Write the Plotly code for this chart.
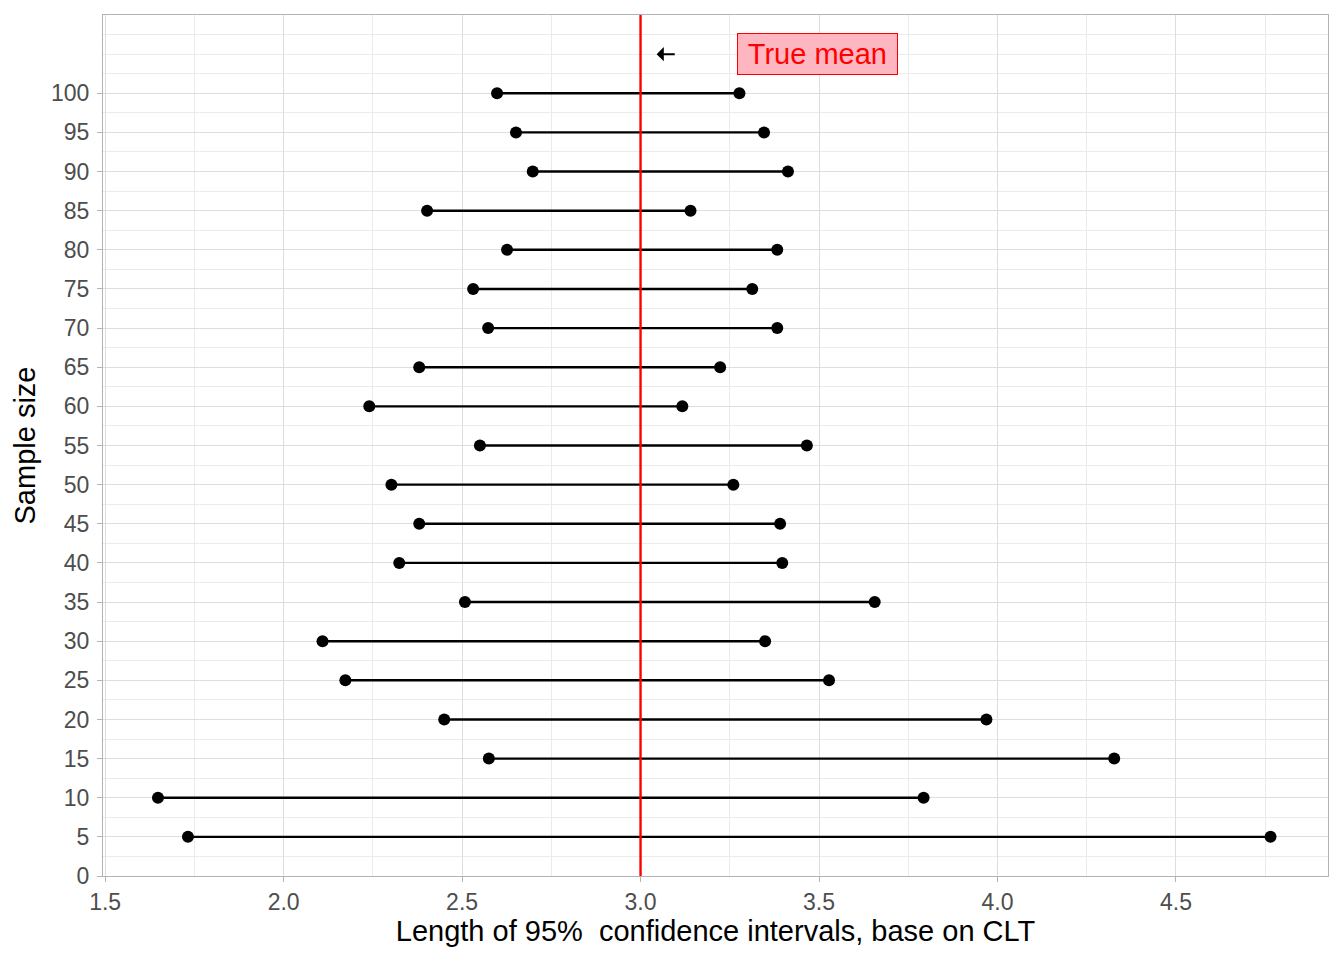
import plotly.graph_objects as go

sample_size = [5, 10, 15, 20, 25, 30, 35, 40, 45, 50, 55, 60, 65, 70, 75, 80, 85, 90, 95, 100]
lower = [1.732, 1.648, 2.575, 2.450, 2.173, 2.109, 2.508, 2.324, 2.380, 2.302,
         2.550, 2.240, 2.380, 2.573, 2.531, 2.626, 2.402, 2.698, 2.651, 2.598]
upper = [4.765, 3.793, 4.327, 3.969, 3.528, 3.349, 3.656, 3.397, 3.391, 3.260,
         3.466, 3.117, 3.223, 3.383, 3.313, 3.383, 3.140, 3.413, 3.346, 3.277]
true_mean = 3.0
x_ticks = [1.5, 2.0, 2.5, 3.0, 3.5, 4.0, 4.5]
x_ticklabels = ["1.5", "2.0", "2.5", "3.0", "3.5", "4.0", "4.5"]
y_ticks = list(range(0, 101, 5))

seg_x, seg_y = [], []
for n, lo, hi in zip(sample_size, lower, upper):
    seg_x += [lo, hi, None]
    seg_y += [n, n, None]

pts_x = lower + upper
pts_y = sample_size + sample_size

fig = go.Figure()
fig.add_trace(go.Scatter(x=seg_x, y=seg_y, mode="lines",
                         line=dict(color="black", width=2.4), hoverinfo="skip",
                         showlegend=False))
fig.add_trace(go.Scatter(x=pts_x, y=pts_y, mode="markers",
                         marker=dict(color="black", size=12), showlegend=False))
fig.add_trace(go.Scatter(x=[true_mean, true_mean], y=[0, 110], mode="lines",
                         line=dict(color="#FF0000", width=2.4), showlegend=False))

fig.add_annotation(x=3.045, y=105, ax=3.10, ay=105, axref="x", ayref="y",
                   xref="x", yref="y", text="", showarrow=True,
                   arrowhead=1, arrowsize=1.2, arrowwidth=2, arrowcolor="black")
fig.add_annotation(x=3.497, y=105, xref="x", yref="y", text="\u2009True mean\u2009",
                   showarrow=False, bgcolor="#FFB6C1", bordercolor="#FF0000",
                   borderwidth=1, borderpad=4,
                   font=dict(color="#FF0000", size=29, family="Liberation Sans"))

fig.update_layout(
    width=1328, height=944,
    margin=dict(l=95, r=8, t=7, b=76),
    paper_bgcolor="white", plot_bgcolor="white",
    font=dict(family="Liberation Sans", color="black"),
    showlegend=False,
)
fig.update_xaxes(
    range=[1.494, 4.926], tickmode="array", tickvals=x_ticks, ticktext=x_ticklabels,
    showgrid=True, gridcolor="#DEDEDE", gridwidth=1.1,
    minor=dict(tickmode="array", tickvals=[1.75, 2.25, 2.75, 3.25, 3.75, 4.25, 4.75],
               showgrid=True, gridcolor="#EBEBEB", gridwidth=0.6, ticks=""),
    ticks="outside", ticklen=5, tickcolor="#B3B3B3", tickwidth=1,
    tickfont=dict(size=23, color="#4D4D4D"),
    showline=True, linecolor="#B3B3B3", linewidth=1, mirror=True,
    zeroline=False,
    title=dict(text="Length of 95%\u00a0 confidence intervals, base on CLT",
               font=dict(size=29, color="black"), standoff=2),
)
fig.update_yaxes(
    range=[0, 110], tickmode="array", tickvals=y_ticks,
    showgrid=True, gridcolor="#DEDEDE", gridwidth=1.1,
    minor=dict(tickmode="array",
               tickvals=[2.5 + 5 * i for i in range(22)] + [105],
               showgrid=True, gridcolor="#EBEBEB", gridwidth=0.6, ticks=""),
    ticks="outside", ticklen=5, tickcolor="#B3B3B3", tickwidth=1,
    tickfont=dict(size=23, color="#4D4D4D"), ticklabelstandoff=3,
    showline=True, linecolor="#B3B3B3", linewidth=1, mirror=True,
    zeroline=False,
    title=dict(text="Sample size", font=dict(size=29, color="black"), standoff=6),
)

fig.write_html("out.html")
